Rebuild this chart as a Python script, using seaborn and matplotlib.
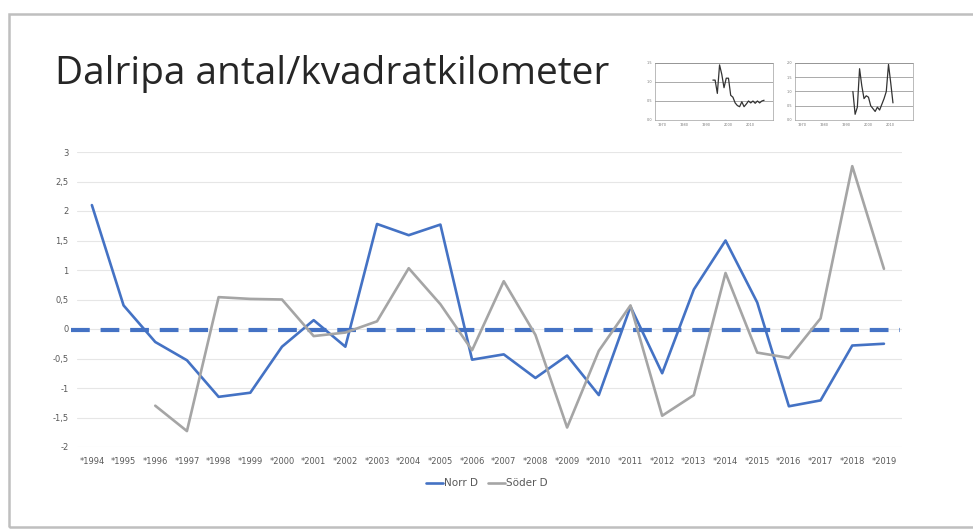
import numpy as np
import pandas as pd
import seaborn as sns
import matplotlib.pyplot as plt
from matplotlib.patches import Rectangle

# Data
years = list(range(1994, 2020))
norr_d = [2.1, 0.4, -0.22, -0.53, -1.15, -1.08, -0.3, 0.15, -0.3, 1.78, 1.59, 1.77, -0.52,
          -0.43, -0.83, -0.45, -1.12, 0.38, -0.75, 0.67, 1.5, 0.45, -1.31, -1.21, -0.28, -0.25]
soder_d = [np.nan, np.nan, -1.3, -1.73, 0.54, 0.51, 0.5, -0.12, -0.06, 0.13, 1.03, 0.42, -0.36,
           0.81, -0.1, -1.67, -0.37, 0.4, -1.47, -1.12, 0.95, -0.4, -0.49, 0.18, 2.76, 1.02]
ref_level = -0.02
yticks = [-2, -1.5, -1, -0.5, 0, 0.5, 1, 1.5, 2, 2.5, 3]

# small thumbnails in the top right corner
inset1_years = list(range(1993, 2017))
inset1_vals = [1.05, 1.05, 0.7, 1.45, 1.2, 0.85, 1.1, 1.1, 0.65, 0.6, 0.45, 0.38, 0.35, 0.48,
               0.35, 0.42, 0.5, 0.45, 0.5, 0.44, 0.5, 0.45, 0.5, 0.52]
inset2_years = list(range(1993, 2012))
inset2_vals = [1.0, 0.2, 0.45, 1.8, 1.2, 0.75, 0.85, 0.8, 0.5, 0.4, 0.3, 0.45, 0.35, 0.55,
               0.75, 1.0, 1.95, 1.3, 0.6]

blue = '#4472C4'
gray = '#A5A5A5'
text_gray = '#595959'

df = pd.DataFrame({'year': years, 'Norr D': norr_d, 'Söder D': soder_d})

sns.set_style('white')
plt.rcParams['font.family'] = ['Liberation Sans Narrow', 'DejaVu Sans']

fig = plt.figure(figsize=(9.73, 5.29), dpi=100)

# slide frame
fig.patches.append(Rectangle((9 / 973, 2 / 529), 1.2, 513 / 529, transform=fig.transFigure,
                             fill=False, edgecolor='#BFBFBF', linewidth=1.8))

fig.text(55 / 973, 1 - 74 / 529, 'Dalripa antal/kvadratkilometer', fontsize=28,
         family=['Open Sans', 'DejaVu Sans'], color='#262626', va='center')

ax = fig.add_axes([77 / 973, 1 - 447 / 529, 825 / 973, 295 / 529])
sns.lineplot(data=df, x='year', y='Norr D', ax=ax, color=blue, linewidth=1.9, label='Norr D')
sns.lineplot(data=df, x='year', y='Söder D', ax=ax, color=gray, linewidth=1.9, label='Söder D')
ax.axhline(ref_level, xmin=-0.007, xmax=0.998, color=blue, linewidth=3, dashes=(4.5, 2.6),
           clip_on=False, zorder=1)

ax.set_xlim(1993.53, 2019.57)
ax.set_ylim(-2, 3)
ax.set_yticks(yticks)
ax.set_yticklabels([f'{v:g}'.replace('.', ',') for v in yticks])
ax.set_xticks(years)
ax.set_xticklabels(['*' + str(y) for y in years])
ax.tick_params(axis='both', length=0, labelsize=6, labelcolor=text_gray)
ax.tick_params(axis='y', pad=6)
ax.tick_params(axis='x', pad=7)
ax.grid(axis='y', color='#E6E6E6', linewidth=0.8)
ax.set_xlabel('')
ax.set_ylabel('')
sns.despine(ax=ax, left=True, bottom=True)
ax.legend(loc='upper center', bbox_to_anchor=(0.497, -0.075), ncol=2, frameon=False,
          fontsize=7.5, handlelength=1.6, handletextpad=0.1, columnspacing=1.0,
          labelcolor=text_gray)

# thumbnails
for pos, xs, vs, ymax in [([655 / 973, 1 - 120 / 529, 118 / 973, 57 / 529], inset1_years, inset1_vals, 1.5),
                          ([795 / 973, 1 - 120 / 529, 118 / 973, 57 / 529], inset2_years, inset2_vals, 2.0)]:
    iax = fig.add_axes(pos)
    sns.lineplot(x=xs, y=vs, ax=iax, color='#333333', linewidth=0.9)
    iax.set_xlim(1967, 2020)
    iax.set_ylim(0, ymax)
    iax.set_yticks(np.arange(0, ymax + 0.01, 0.5))
    iax.set_yticklabels([f'{v:.1f}' for v in np.arange(0, ymax + 0.01, 0.5)])
    iax.set_xticks([1970, 1980, 1990, 2000, 2010])
    iax.tick_params(labelsize=2.5, length=1, width=0.4, pad=1, labelcolor='#777777')
    iax.grid(axis='y', color='#888888', linewidth=0.5)
    for s in iax.spines.values():
        s.set_linewidth(0.4)
        s.set_color('#888888')

fig.savefig('out.png', dpi=100)
